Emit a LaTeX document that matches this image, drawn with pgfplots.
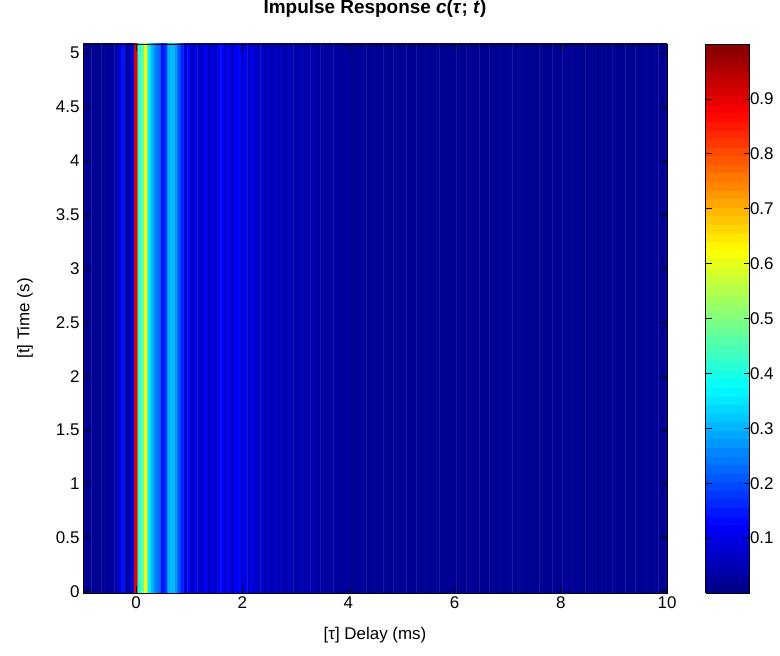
\documentclass[border=0pt]{standalone}
\usepackage{pgfplots}
\pgfplotsset{compat=1.18}
\usepackage{pgfplotstable}
\usepackage{fontspec}
\setmainfont{Liberation Sans}
\usetikzlibrary{calc}
\pgfplotstableread[row sep=\\]{
k r c\\
-16 0 0.02\\ -15 0 0.02\\ -14 0 0.02\\ -13 0 0.025\\ -12 0 0.02\\ -11 0 0.02\\ -10 0 0.025\\ -9 0 0.03\\ -8 0 0.025\\ -7 0 0.03\\ -6 0 0.04\\ -5 0 0.07\\ -4 0 0.14\\ -3 0 0.05\\ -2 0 0.04\\ -1 0 0.09\\
0 0 0.9\\ 1 0 0.42\\ 2 0 0.47\\ 3 0 0.62\\ 4 0 0.36\\ 5 0 0.30\\ 6 0 0.25\\ 7 0 0.23\\ 8 0 0.14\\ 9 0 0.17\\ 10 0 0.30\\ 11 0 0.31\\ 12 0 0.28\\ 13 0 0.21\\ 14 0 0.16\\
15 0 0.09\\ 16 0 0.12\\ 17 0 0.07\\ 18 0 0.11\\ 19 0 0.06\\ 20 0 0.09\\ 21 0 0.12\\ 22 0 0.06\\ 23 0 0.10\\ 24 0 0.07\\ 25 0 0.11\\ 26 0 0.13\\ 27 0 0.08\\ 28 0 0.12\\ 29 0 0.07\\ 30 0 0.11\\ 31 0 0.13\\ 32 0 0.08\\ 33 0 0.11\\ 34 0 0.07\\ 35 0 0.10\\ 36 0 0.08\\ 37 0 0.06\\ 38 0 0.08\\ 39 0 0.05\\ 40 0 0.07\\ 41 0 0.05\\ 42 0 0.07\\ 43 0 0.05\\ 44 0 0.06\\ 45 0 0.04\\ 46 0 0.06\\ 47 0 0.05\\ 48 0 0.04\\ 49 0 0.05\\ 50 0 0.04\\ 51 0 0.05\\ 52 0 0.04\\ 53 0 0.05\\ 54 0 0.04\\ 55 0 0.03\\ 56 0 0.04\\ 57 0 0.03\\ 58 0 0.03\\ 59 0 0.035\\ 60 0 0.03\\ 61 0 0.03\\ 62 0 0.025\\ 63 0 0.03\\ 64 0 0.04\\
65 0 0.02\\ 66 0 0.02\\ 67 0 0.025\\ 68 0 0.02\\ 69 0 0.02\\ 70 0 0.025\\ 71 0 0.02\\ 72 0 0.02\\ 73 0 0.02\\ 74 0 0.025\\ 75 0 0.02\\ 76 0 0.02\\ 77 0 0.02\\ 78 0 0.025\\ 79 0 0.02\\ 80 0 0.02\\ 81 0 0.02\\ 82 0 0.02\\ 83 0 0.025\\ 84 0 0.02\\ 85 0 0.02\\ 86 0 0.02\\ 87 0 0.02\\ 88 0 0.02\\ 89 0 0.02\\ 90 0 0.02\\ 91 0 0.02\\ 92 0 0.02\\ 93 0 0.02\\ 94 0 0.02\\ 95 0 0.02\\ 96 0 0.02\\ 97 0 0.02\\ 98 0 0.02\\ 99 0 0.02\\ 100 0 0.02\\ 101 0 0.02\\ 102 0 0.02\\ 103 0 0.02\\ 104 0 0.02\\ 105 0 0.02\\ 106 0 0.02\\ 107 0 0.02\\ 108 0 0.02\\ 109 0 0.02\\ 110 0 0.02\\ 111 0 0.02\\ 112 0 0.02\\ 113 0 0.02\\ 114 0 0.02\\ 115 0 0.02\\ 116 0 0.02\\ 117 0 0.02\\ 118 0 0.02\\ 119 0 0.02\\ 120 0 0.02\\ 121 0 0.02\\ 122 0 0.02\\ 123 0 0.02\\ 124 0 0.02\\ 125 0 0.02\\ 126 0 0.02\\ 127 0 0.02\\ 128 0 0.02\\ 129 0 0.02\\ 130 0 0.02\\ 131 0 0.02\\ 132 0 0.02\\ 133 0 0.02\\ 134 0 0.02\\ 135 0 0.02\\ 136 0 0.02\\ 137 0 0.02\\ 138 0 0.02\\ 139 0 0.02\\ 140 0 0.02\\ 141 0 0.02\\ 142 0 0.02\\ 143 0 0.02\\ 144 0 0.02\\ 145 0 0.02\\ 146 0 0.02\\ 147 0 0.02\\ 148 0 0.02\\ 149 0 0.02\\ 150 0 0.02\\ 151 0 0.02\\ 152 0 0.02\\ 153 0 0.02\\ 154 0 0.02\\ 155 0 0.02\\ 156 0 0.02\\ 157 0 0.02\\ 158 0 0.02\\ 159 0 0.02\\ 160 0 0.02\\
-16 1 0.02\\ -15 1 0.02\\ -14 1 0.02\\ -13 1 0.025\\ -12 1 0.02\\ -11 1 0.02\\ -10 1 0.025\\ -9 1 0.03\\ -8 1 0.025\\ -7 1 0.03\\ -6 1 0.04\\ -5 1 0.07\\ -4 1 0.14\\ -3 1 0.05\\ -2 1 0.04\\ -1 1 0.09\\
0 1 0.9\\ 1 1 0.42\\ 2 1 0.47\\ 3 1 0.62\\ 4 1 0.36\\ 5 1 0.30\\ 6 1 0.25\\ 7 1 0.23\\ 8 1 0.14\\ 9 1 0.17\\ 10 1 0.30\\ 11 1 0.31\\ 12 1 0.28\\ 13 1 0.21\\ 14 1 0.16\\
15 1 0.09\\ 16 1 0.12\\ 17 1 0.07\\ 18 1 0.11\\ 19 1 0.06\\ 20 1 0.09\\ 21 1 0.12\\ 22 1 0.06\\ 23 1 0.10\\ 24 1 0.07\\ 25 1 0.11\\ 26 1 0.13\\ 27 1 0.08\\ 28 1 0.12\\ 29 1 0.07\\ 30 1 0.11\\ 31 1 0.13\\ 32 1 0.08\\ 33 1 0.11\\ 34 1 0.07\\ 35 1 0.10\\ 36 1 0.08\\ 37 1 0.06\\ 38 1 0.08\\ 39 1 0.05\\ 40 1 0.07\\ 41 1 0.05\\ 42 1 0.07\\ 43 1 0.05\\ 44 1 0.06\\ 45 1 0.04\\ 46 1 0.06\\ 47 1 0.05\\ 48 1 0.04\\ 49 1 0.05\\ 50 1 0.04\\ 51 1 0.05\\ 52 1 0.04\\ 53 1 0.05\\ 54 1 0.04\\ 55 1 0.03\\ 56 1 0.04\\ 57 1 0.03\\ 58 1 0.03\\ 59 1 0.035\\ 60 1 0.03\\ 61 1 0.03\\ 62 1 0.025\\ 63 1 0.03\\ 64 1 0.04\\
65 1 0.02\\ 66 1 0.02\\ 67 1 0.025\\ 68 1 0.02\\ 69 1 0.02\\ 70 1 0.025\\ 71 1 0.02\\ 72 1 0.02\\ 73 1 0.02\\ 74 1 0.025\\ 75 1 0.02\\ 76 1 0.02\\ 77 1 0.02\\ 78 1 0.025\\ 79 1 0.02\\ 80 1 0.02\\ 81 1 0.02\\ 82 1 0.02\\ 83 1 0.025\\ 84 1 0.02\\ 85 1 0.02\\ 86 1 0.02\\ 87 1 0.02\\ 88 1 0.02\\ 89 1 0.02\\ 90 1 0.02\\ 91 1 0.02\\ 92 1 0.02\\ 93 1 0.02\\ 94 1 0.02\\ 95 1 0.02\\ 96 1 0.02\\ 97 1 0.02\\ 98 1 0.02\\ 99 1 0.02\\ 100 1 0.02\\ 101 1 0.02\\ 102 1 0.02\\ 103 1 0.02\\ 104 1 0.02\\ 105 1 0.02\\ 106 1 0.02\\ 107 1 0.02\\ 108 1 0.02\\ 109 1 0.02\\ 110 1 0.02\\ 111 1 0.02\\ 112 1 0.02\\ 113 1 0.02\\ 114 1 0.02\\ 115 1 0.02\\ 116 1 0.02\\ 117 1 0.02\\ 118 1 0.02\\ 119 1 0.02\\ 120 1 0.02\\ 121 1 0.02\\ 122 1 0.02\\ 123 1 0.02\\ 124 1 0.02\\ 125 1 0.02\\ 126 1 0.02\\ 127 1 0.02\\ 128 1 0.02\\ 129 1 0.02\\ 130 1 0.02\\ 131 1 0.02\\ 132 1 0.02\\ 133 1 0.02\\ 134 1 0.02\\ 135 1 0.02\\ 136 1 0.02\\ 137 1 0.02\\ 138 1 0.02\\ 139 1 0.02\\ 140 1 0.02\\ 141 1 0.02\\ 142 1 0.02\\ 143 1 0.02\\ 144 1 0.02\\ 145 1 0.02\\ 146 1 0.02\\ 147 1 0.02\\ 148 1 0.02\\ 149 1 0.02\\ 150 1 0.02\\ 151 1 0.02\\ 152 1 0.02\\ 153 1 0.02\\ 154 1 0.02\\ 155 1 0.02\\ 156 1 0.02\\ 157 1 0.02\\ 158 1 0.02\\ 159 1 0.02\\ 160 1 0.02\\
}\irdata
\begin{document}
\begin{tikzpicture}
\begin{axis}[
  name=ax,
  scale only axis,
  width=584bp, height=549bp,
  xmin=-1, xmax=10, ymin=-0.015, ymax=5.085,
  enlargelimits=false,
  axis on top,
  colormap/jet,
  point meta min=0, point meta max=1,
  tick align=inside,
  tick pos=both,
  major tick length=7bp,
  tick style={black, line width=0.6pt},
  axis line style={black, line width=0.7pt},
  xtick={0,2,4,6,8,10},
  xticklabels={0,2,4,6,8,10},
  ytick={0,0.5,1,1.5,2,2.5,3,3.5,4,4.5,5},
  yticklabels={0,0.5,1,1.5,2,2.5,3,3.5,4,4.5,5},
  ticklabel style={font=\fontsize{17}{20}\selectfont},
  title={\textbf{Impulse Response \textit{c}(\textit{τ}; \textit{t})}},
  title style={font=\fontsize{19}{22}\selectfont, at={(axis description cs:0.5,1)}, anchor=center, yshift=29bp},
  xlabel={[τ] Delay (ms)},
  xlabel style={font=\fontsize{17}{20}\selectfont, at={(axis description cs:0.5,0)}, anchor=center, yshift=-42bp},
  ylabel={[t] Time (s)},
  ylabel style={font=\fontsize{17}{20}\selectfont, at={(axis description cs:-0.0993,0.5)}, anchor=center},
  colorbar sampled,
  colorbar style={
    samples=65,
    at={(parent axis.north east)}, anchor=north west, xshift=30bp,
    width=44bp,
    ytick={0.1,0.2,0.3,0.4,0.5,0.6,0.7,0.8,0.9},
    yticklabels={0.1,0.2,0.3,0.4,0.5,0.6,0.7,0.8,0.9},
    ytick pos=both, yticklabel pos=right,
    tick align=inside,
    major tick length=6bp,
    tick style={black, line width=0.6pt},
    axis line style={black, line width=0.7pt},
    yticklabel style={font=\fontsize{17}{20}\selectfont, xshift=-3bp},
    xtick=\empty,
  },
]
\addplot[matrix plot*, mesh/cols=177, mesh/rows=2, point meta=explicit]
  table[x expr=\thisrow{k}*0.0625, y expr=2.535+5.2*\thisrow{r}, meta=c] {\irdata};
\end{axis}
\pgfresetboundingbox
\path[use as bounding box] ($(ax.south west)+(-83bp,-63bp)$) rectangle ($(ax.south west)+(697bp,593bp)$);
\end{tikzpicture}
\end{document}
